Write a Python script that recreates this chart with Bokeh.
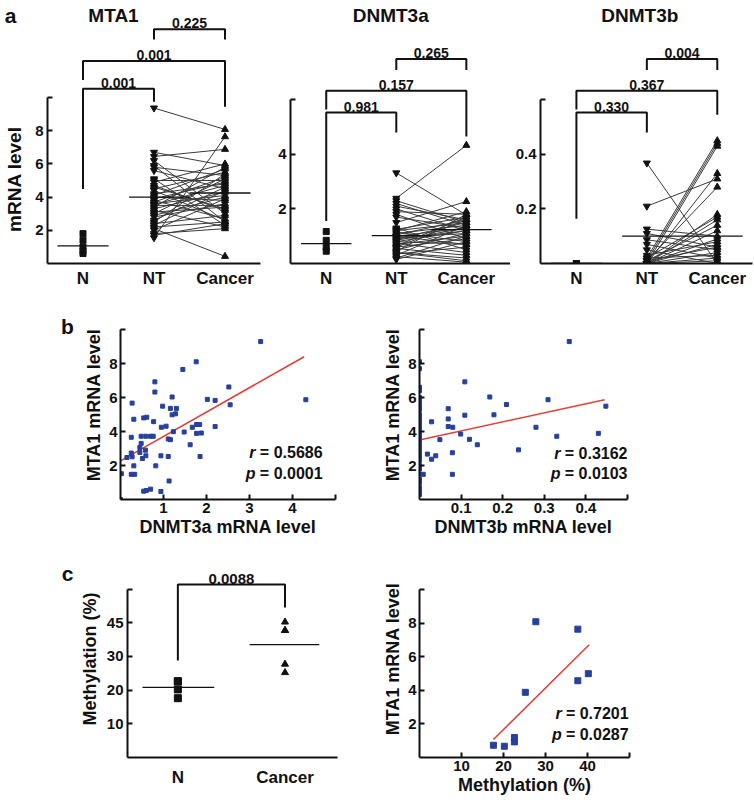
import math
from bokeh.plotting import figure
from bokeh.layouts import column, row
from bokeh.models import FixedTicker, Label
from bokeh.core.properties import value
from bokeh.embed import file_html
from bokeh.resources import INLINE

FONT = "Liberation Sans"
BLACK = "#111111"
BLUE = "#27409b"
RED = "#e0403a"
PAIR = "#3a3a3a"

# ======================= DATA =======================
a_groups = ["N", "NT", "Cancer"]
a_titles = ["MTA1", "DNMT3a", "DNMT3b"]

# MTA1 mRNA level
mta1_N = [1.8, 1.4, 1.0, 0.75, 0.6]
mta1_NT = [9.37, 1.55, 6.45, 2.10, 6.70, 6.20, 5.90, 5.80, 5.60, 5.10, 4.90, 4.70, 4.50, 4.40,
           4.20, 4.10, 4.00, 3.90, 3.80, 3.70, 3.60, 3.50, 3.40, 3.30, 3.20, 3.10, 3.00, 2.90,
           2.80, 2.60, 2.50, 2.40, 2.30, 2.20, 2.00, 1.80, 1.70, 5.00, 4.60, 3.55]
mta1_Ca = [8.08, 7.64, 6.88, 0.43, 5.90, 3.00, 2.50, 5.30, 4.50, 2.30, 6.00, 3.20, 5.50, 2.60,
           4.80, 5.70, 3.80, 4.90, 2.70, 5.20, 4.10, 3.50, 5.80, 4.30, 2.20, 3.40, 5.10, 4.00,
           3.60, 4.60, 5.40, 2.90, 4.40, 2.50, 3.90, 2.10, 2.40, 5.00, 3.30, 4.70]
mta1_mean = [1.06, 4.0, 4.25]
mta1_pvals = ["0.001", "0.001", "0.225"]          # N-NT, N-Cancer, NT-Cancer
mta1_yticks = [2, 4, 6, 8, 10]
mta1_ylabels = ["2", "4", "6", "8", ""]

# DNMT3a mRNA level
dnmt3a_N = [1.17, 0.85, 0.6, 0.45]
dnmt3a_NT = [3.32, 2.39, 2.3, 2.2, 2.1, 2.0, 1.9, 1.8, 1.7, 1.5, 1.3, 1.25, 1.2, 1.15, 1.1, 1.05,
             1.0, 0.95, 0.9, 0.85, 0.8, 0.75, 0.7, 0.65, 0.6, 0.55, 0.5, 0.45, 0.4, 0.35, 0.3,
             0.25, 0.2, 0.15, 1.2, 0.9, 0.6, 0.4, 1.0, 0.8]
dnmt3a_Ca = [1.78, 4.33, 1.5, 1.4, 1.6, 1.2, 1.8, 0.9, 1.3, 2.27, 0.5, 1.7, 1.9, 0.8, 1.4, 1.6,
             0.7, 1.1, 1.5, 1.3, 1.2, 0.4, 1.0, 1.7, 0.9, 0.3, 1.1, 1.8, 0.2, 0.6, 1.4, 0.05,
             1.0, 0.8, 1.5, 1.2, 1.6, 0.1, 1.3, 0.7]
dnmt3a_mean = [0.73, 1.02, 1.24]
dnmt3a_pvals = ["0.981", "0.157", "0.265"]
dnmt3a_yticks = [2, 4, 6]
dnmt3a_ylabels = ["2", "4", ""]

# DNMT3b mRNA level
dnmt3b_N = [0.0, 0.0, 0.0]
dnmt3b_NT = [0.368, 0.21, 0.126, 0.11, 0.087, 0.07, 0.05, 0.02, 0.01, 0.0, 0.0, 0.01, 0.0, 0.02,
             0.0, 0.01, 0.0, 0.0, 0.03, 0.0, 0.01, 0.0, 0.02, 0.0, 0.0]
dnmt3b_Ca = [0.0, 0.31, 0.1, 0.06, 0.05, 0.02, 0.0, 0.45, 0.44, 0.43, 0.33, 0.28, 0.18, 0.17,
             0.16, 0.14, 0.12, 0.09, 0.08, 0.07, 0.06, 0.04, 0.03, 0.02, 0.01]
dnmt3b_mean = [0.0, 0.10, 0.10]
dnmt3b_pvals = ["0.330", "0.367", "0.004"]
dnmt3b_yticks = [0.2, 0.4, 0.6]
dnmt3b_ylabels = ["0.2", "0.4", ""]

# b: MTA1 vs DNMT3a
b1_x = [3.26, 1.76, 1.45, 0.80, 0.80, 2.52, 1.20, 2.02, 2.20, 4.31, 2.55, 0.27, 0.98, 1.16, 1.30,
        1.20, 1.28, 0.54, 0.61, 0.31, 0.77, 0.95, 1.06, 2.20, 1.67, 1.84, 1.77, 1.23, 1.48, 1.77,
        1.88, 0.25, 0.48, 0.59, 0.70, 0.76, 1.11, 1.16, 0.48, 0.45, 0.58, 1.62, 0.25, 0.45, 0.15,
        0.27, 0.59, 0.51, 0.94, 1.11, 1.85, 0.31, 0.82, 0.25, 0.33, 0.02, 1.13, 0.54, 0.60, 0.70,
        0.94, 0.00]
b1_y = [9.29, 8.10, 7.65, 6.92, 6.32, 6.62, 6.03, 5.89, 5.83, 5.87, 5.57, 5.67, 5.49, 5.36, 5.36,
        4.98, 5.04, 4.80, 4.84, 4.72, 4.58, 4.25, 4.31, 4.29, 4.25, 4.41, 4.41, 3.99, 3.97, 3.89,
        3.91, 3.66, 3.72, 3.72, 3.72, 3.72, 3.56, 3.52, 3.30, 3.06, 2.90, 3.22, 2.73, 2.77, 2.47,
        2.51, 2.57, 2.41, 2.57, 2.53, 2.53, 1.98, 1.98, 1.48, 1.48, 1.52, 1.09, 0.49, 0.53, 0.61,
        0.47, 0.00]
b1_fit_x = [0.0, 4.27]
b1_fit_y = [2.27, 8.40]
b1_r, b1_p = "0.5686", "0.0001"

# b: MTA1 vs DNMT3b
b2_x = [0.360, 0.109, 0.169, 0.309, 0.209, 0.448, 0.069, 0.109, 0.179, 0.069, 0.069, 0.080, 0.280,
        0.029, 0.099, 0.430, 0.330, 0.120, 0.049, 0.139, 0.238, 0.079, 0.019, 0.039, 0.029, 0.009,
        0.079,
        0, 0, 0, 0, 0, 0, 0, 0, 0, 0, 0, 0, 0, 0, 0, 0, 0, 0, 0, 0, 0, 0, 0, 0, 0, 0, 0, 0, 0, 0,
        0, 0, 0, 0]
b2_y = [9.29, 6.92, 6.03, 5.87, 5.59, 5.49, 5.34, 4.96, 4.98, 4.74, 4.29, 4.25, 4.25, 4.57, 3.85,
        3.89, 3.72, 3.54, 3.52, 3.22, 2.92, 2.75, 2.67, 2.57, 2.37, 1.48, 1.48,
        8.1, 7.7, 6.6, 6.4, 6.0, 5.9, 5.8, 5.7, 5.5, 5.3, 5.0, 4.8, 4.6, 4.4, 4.2, 4.0, 3.9, 3.7,
        3.6, 3.4, 3.2, 3.0, 2.8, 2.6, 2.5, 2.3, 2.0, 1.8, 1.5, 1.2, 1.0, 0.7, 0.5, 0.3]
b2_fit_x = [0.0, 0.445]
b2_fit_y = [3.50, 5.87]
b2_r, b2_p = "0.3162", "0.0103"

# c: methylation
c_groups = ["N", "Cancer"]
c_N = [17.6, 20.2, 22.6, 22.6]
c_Ca = [25.2, 27.7, 37.7, 37.7, 40.2]
c_mean = [20.8, 33.5]
c_pval = "0.0088"
c_yticks = [10, 20, 30, 40, 50]
c_ylabels = ["10", "20", "30", "45", ""]

c2_x = [17.6, 20.2, 22.6, 22.6, 25.2, 27.7, 37.7, 37.7, 40.2]
c2_y = [0.73, 0.67, 1.19, 0.93, 3.88, 8.08, 7.64, 4.57, 4.99]
c2_fit_x = [17.6, 40.4]
c2_fit_y = [1.07, 6.71]
c2_r, c2_p = "0.7201", "0.0287"


# ======================= STYLE HELPERS =======================
def base(p):
    p.grid.visible = False
    p.outline_line_color = None
    p.background_fill_color = "white"
    p.border_fill_color = "white"
    for ax in p.axis:
        ax.axis_line_width = 2
        ax.axis_line_color = BLACK
        ax.major_tick_line_color = BLACK
        ax.major_tick_line_width = 2
        ax.major_tick_in = 5
        ax.major_tick_out = 0
        ax.minor_tick_line_color = None
        ax.major_label_text_font = FONT
        ax.major_label_text_font_style = "bold"
        ax.major_label_text_font_size = "15px"
        ax.major_label_text_color = BLACK
        ax.axis_label_text_font = FONT
        ax.axis_label_text_font_style = "bold"
        ax.axis_label_text_font_size = "18px"
        ax.axis_label_text_color = BLACK
        ax.major_label_standoff = 4
        ax.axis_label_standoff = 3


def txt(p, x, y, text, size, style="bold", align="center", baseline="middle", angle=0.0,
        x_offset=0, y_offset=0):
    p.text(x=[x], y=[y], text=[text], text_font=value(FONT), text_font_size=size,
           text_font_style=style, text_color=BLACK, text_align=align, text_baseline=baseline,
           angle=angle, x_offset=x_offset, y_offset=y_offset)


def stats(p, x, y_r, y_p, r, pv):
    for sym, val, y in (("r", r, y_r), ("p", pv, y_p)):
        txt(p, x, y, "= " + val, "16px", align="right")
        txt(p, x, y, sym, "16px", style="bold italic", align="right", x_offset=-67)


def bracket(p, x1, x2, ytop, yl, yr, text, size="14px"):
    p.line(x=[x1, x1, x2, x2], y=[yl, ytop, ytop, yr], line_color=BLACK, line_width=2)
    txt(p, (x1 + x2) / 2, ytop, text, size, baseline="bottom", y_offset=-1)


def side_fig(width, height, top, bottom):
    # narrow panel holding a panel letter; frame aligned with the row's plot frames,
    # y in pixels measured upward from the frame bottom
    p = figure(width=width, height=height, x_range=(0, width),
               y_range=(0, height - top - bottom),
               x_axis_location=None, y_axis_location=None,
               min_border_left=0, min_border_right=0, min_border_top=top,
               min_border_bottom=bottom, output_backend="svg", toolbar_location=None)
    p.grid.visible = False
    p.outline_line_color = None
    p.background_fill_color = "white"
    p.border_fill_color = "white"
    return p


# ======================= PANEL a =======================
ROW1_H = 290
A_FRAME_H = 265
MEAN_X0 = [0.64, 1.65, 2.5]
MEAN_X1 = [1.36, 2.5, 3.36]


def make_a(title, title_x, nv, ntv, cav, means, pvals, yticks, ylabels, px_unit, xr, width,
           mbl, mbr, br):
    ytop = A_FRAME_H / px_unit
    p = figure(width=width, height=ROW1_H, x_range=xr, y_range=(0, ytop),
               output_backend="svg", toolbar_location=None,
               min_border_left=mbl, min_border_right=mbr, min_border_top=0,
               min_border_bottom=ROW1_H - A_FRAME_H)
    base(p)
    p.xaxis.ticker = FixedTicker(ticks=[1, 2, 3])
    p.xaxis.major_label_overrides = {1: a_groups[0], 2: a_groups[1], 3: a_groups[2]}
    p.xaxis.major_tick_in = 0
    p.xaxis.major_label_text_font_size = "17px"
    p.xaxis.major_label_standoff = 5
    p.yaxis.ticker = FixedTicker(ticks=yticks)
    p.yaxis.major_label_overrides = {t: l for t, l in zip(yticks, ylabels)}
    p.yaxis.bounds = (0, yticks[-1])

    p.segment(x0=[2] * len(ntv), y0=ntv, x1=[3] * len(cav), y1=cav,
              line_color=PAIR, line_width=1)
    p.segment(x0=MEAN_X0, y0=means, x1=MEAN_X1, y1=means, line_color=BLACK, line_width=1.3)
    p.scatter(x=[1] * len(nv), y=nv, marker="square", size=6, color=BLACK)
    p.scatter(x=[2] * len(ntv), y=ntv, marker="inverted_triangle", size=7, color=BLACK)
    p.scatter(x=[3] * len(cav), y=cav, marker="triangle", size=7, color=BLACK)

    pairs = [(1, 2), (1, 3), (2, 3)]
    for (a, b), (yt, yl, yr), t in zip(pairs, br, pvals):
        bracket(p, a, b, yt, yl, yr, t)

    p.add_layout(Label(x=title_x, y=(A_FRAME_H - 15) / px_unit, text=title, text_font=FONT,
                       text_font_size="19px", text_font_style="bold", text_color=BLACK,
                       text_align="center", text_baseline="middle"))
    return p


fa = side_fig(24, ROW1_H, 0, ROW1_H - A_FRAME_H)
txt(fa, 10, A_FRAME_H - 15.5, "a", "21px", baseline="alphabetic")
txt(fa, 14, A_FRAME_H - 180, "mRNA level", "19px", angle=math.pi / 2)

f1 = make_a(a_titles[0], 1.43, mta1_N, mta1_NT, mta1_Ca, mta1_mean, mta1_pvals,
            mta1_yticks, mta1_ylabels, 16.72, (0.5, 3.5), 246, 23, 10,
            [(10.53, 4.49, 9.75), (12.2, 11.06, 9.45), (14.11, 13.5, 13.5)])
f2 = make_a(a_titles[1], 1.92, dnmt3a_N, dnmt3a_NT, dnmt3a_Ca, dnmt3a_mean, dnmt3a_pvals,
            dnmt3a_yticks, dnmt3a_ylabels, 27.5, (0.49, 3.63), 240, 20, 0,
            [(5.53, 1.56, 4.8), (6.33, 5.64, 4.65), (7.49, 7.09, 7.09)])
f3 = make_a(a_titles[2], 1.90, dnmt3b_N, dnmt3b_NT, dnmt3b_Ca, dnmt3b_mean, dnmt3b_pvals,
            dnmt3b_yticks, dnmt3b_ylabels, 275.0, (0.49, 3.5), 244, 30, 2,
            [(0.553, 0.164, 0.48), (0.633, 0.564, 0.545), (0.749, 0.709, 0.709)])


# ======================= PANEL b / c scatter =======================
def make_scatter(xs, ys, fx, fy, r, pv, xr, xticks, xlabels, ytop, width, mbl, mbr, height,
                 mbt, mbb, xlab, ylab, stat_pos, msize=4):
    p = figure(width=width, height=height, x_range=xr, y_range=(0, ytop),
               output_backend="svg", toolbar_location=None,
               min_border_left=mbl, min_border_right=mbr, min_border_top=mbt,
               min_border_bottom=mbb)
    base(p)
    p.xaxis.ticker = FixedTicker(ticks=xticks)
    p.xaxis.major_label_overrides = {t: l for t, l in zip(xticks, xlabels)}
    p.xaxis.bounds = (xr[0], xticks[-1])
    p.xaxis.major_label_standoff = 3
    p.xaxis.axis_label_standoff = 1
    p.yaxis.ticker = FixedTicker(ticks=[2, 4, 6, 8, 10])
    p.yaxis.major_label_overrides = {2: "2", 4: "4", 6: "6", 8: "8", 10: ""}
    p.yaxis.bounds = (0, 10)
    p.yaxis.major_label_standoff = 3
    p.yaxis.axis_label_standoff = 2
    p.xaxis.axis_label = xlab
    p.yaxis.axis_label = ylab
    p.line(x=fx, y=fy, line_color=RED, line_width=1.6)
    p.scatter(x=xs, y=ys, marker="square", size=msize, color=BLUE)
    stats(p, stat_pos[0], stat_pos[1], stat_pos[2], r, pv)
    return p


ROW2_H = 250
B_TOP, B_BOT = 20, 41                     # frame: page y 310 .. 499
B_FRAME_H = ROW2_H - B_TOP - B_BOT
fb = side_fig(78, ROW2_H, B_TOP, B_BOT)
txt(fb, 67, 499 - 326, "b", "21px", baseline="alphabetic")

f4 = make_scatter(b1_x, b1_y, b1_fit_x, b1_fit_y, b1_r, b1_p, (0, 5), [1, 2, 3, 4, 5],
                  ["1", "2", "3", "4", ""], B_FRAME_H / 17.0, 302, 42, 45, ROW2_H, B_TOP, B_BOT,
                  "DNMT3a mRNA level", "MTA1 mRNA level", (4.7, 2.76, 1.53))
f5 = make_scatter(b2_x, b2_y, b2_fit_x, b2_fit_y, b2_r, b2_p, (0, 0.5),
                  [0.1, 0.2, 0.3, 0.4, 0.5], ["0.1", "0.2", "0.3", "0.4", ""],
                  B_FRAME_H / 17.0, 374, 33, 127, ROW2_H, B_TOP, B_BOT,
                  "DNMT3b mRNA level", "MTA1 mRNA level", (0.5, 2.7, 1.53))

# ======================= PANEL c =======================
ROW3_H = 264
C_TOP, C_BOT = 20, 47                     # frame: page y 560 .. 757
C_FRAME_H = ROW3_H - C_TOP - C_BOT
fc = side_fig(76, ROW3_H, C_TOP, C_BOT)
txt(fc, 67, 757 - 573, "c", "21px", baseline="alphabetic")

f6 = figure(width=304, height=ROW3_H, x_range=(0.53, 2.49),
            y_range=(0, C_FRAME_H / 3.37),
            output_backend="svg", toolbar_location=None,
            min_border_left=45, min_border_right=43, min_border_top=C_TOP,
            min_border_bottom=C_BOT)
base(f6)
f6.xaxis.ticker = FixedTicker(ticks=[1, 2])
f6.xaxis.major_label_overrides = {1: c_groups[0], 2: c_groups[1]}
f6.xaxis.major_tick_in = 0
f6.xaxis.major_label_text_font_size = "17px"
f6.xaxis.major_label_standoff = 10
f6.yaxis.ticker = FixedTicker(ticks=c_yticks)
f6.yaxis.major_label_overrides = {t: l for t, l in zip(c_yticks, c_ylabels)}
f6.yaxis.bounds = (0, 50)
f6.yaxis.axis_label = "Methylation (%)"
f6.yaxis.axis_label_standoff = 4
f6.segment(x0=[0.67, 1.67], y0=c_mean, x1=[1.34, 2.32], y1=c_mean, line_color=BLACK,
           line_width=1.3)
f6.scatter(x=[1] * len(c_N), y=c_N, marker="square", size=7, color=BLACK)
f6.scatter(x=[2] * len(c_Ca), y=c_Ca, marker="triangle", size=7, color=BLACK)
bracket(f6, 1, 2, 51.3, 28.8, 44.5, c_pval, size="15px")

f7 = make_scatter(c2_x, c2_y, c2_fit_x, c2_fit_y, c2_r, c2_p, (0, 50), [10, 20, 30, 40, 50],
                  ["10", "20", "30", "40", ""], C_FRAME_H / 16.8, 374, 33, 125, ROW3_H,
                  C_TOP, C_BOT, "Methylation (%)", "MTA1 mRNA level", (49.8, 2.62, 1.37),
                  msize=6)

layout = column(row(fa, f1, f2, f3), row(fb, f4, f5), row(fc, f6, f7))

with open("out.html", "w") as fh:
    fh.write(file_html(layout, INLINE))
